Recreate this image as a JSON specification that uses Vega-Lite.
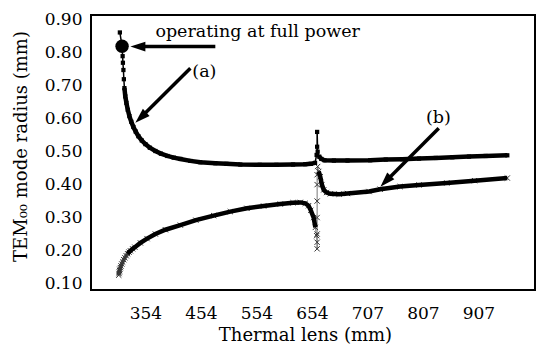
{
  "$schema": "https://vega.github.io/schema/vega-lite/v6.json",
  "width": 444,
  "height": 275,
  "autosize": {"type": "none"},
  "padding": {"left": 91, "top": 15, "right": 1, "bottom": 56},
  "background": "white",
  "config": {"view": {"stroke": "black", "strokeWidth": 2}, "font": "DejaVu Serif"},
  "datasets": {
    "curves": [
      {"series": "a", "x": 308, "y": 0.862}, {"series": "a", "x": 312, "y": 0.82}, {"series": "a", "x": 313, "y": 0.79},
      {"series": "a", "x": 313.5, "y": 0.77}, {"series": "a", "x": 314.4, "y": 0.748}, {"series": "a", "x": 315.2, "y": 0.72},
      {"series": "a", "x": 316.2, "y": 0.693}, {"series": "a", "x": 317.8, "y": 0.668}, {"series": "a", "x": 319.8, "y": 0.648},
      {"series": "a", "x": 322.3, "y": 0.627}, {"series": "a", "x": 325.2, "y": 0.608}, {"series": "a", "x": 328.5, "y": 0.591},
      {"series": "a", "x": 332.4, "y": 0.575}, {"series": "a", "x": 336.6, "y": 0.561}, {"series": "a", "x": 341.4, "y": 0.547},
      {"series": "a", "x": 347.5, "y": 0.534}, {"series": "a", "x": 354, "y": 0.523}, {"series": "a", "x": 362, "y": 0.512},
      {"series": "a", "x": 372, "y": 0.502}, {"series": "a", "x": 382, "y": 0.494}, {"series": "a", "x": 393.6, "y": 0.487},
      {"series": "a", "x": 405, "y": 0.482}, {"series": "a", "x": 417, "y": 0.478}, {"series": "a", "x": 435, "y": 0.472},
      {"series": "a", "x": 453, "y": 0.468}, {"series": "a", "x": 480, "y": 0.465}, {"series": "a", "x": 500, "y": 0.463},
      {"series": "a", "x": 525, "y": 0.461}, {"series": "a", "x": 560, "y": 0.46},
      {"series": "a", "x": 590, "y": 0.46}, {"series": "a", "x": 620, "y": 0.461},
      {"series": "a", "x": 642, "y": 0.462}, {"series": "a", "x": 652, "y": 0.463}, {"series": "a", "x": 657, "y": 0.466},
      {"series": "a", "x": 658.5, "y": 0.49}, {"series": "a", "x": 659, "y": 0.515}, {"series": "a", "x": 659, "y": 0.56},
      {"series": "a", "x": 659.5, "y": 0.5}, {"series": "a", "x": 661, "y": 0.485}, {"series": "a", "x": 663, "y": 0.478},
      {"series": "a", "x": 666, "y": 0.474}, {"series": "a", "x": 675, "y": 0.473}, {"series": "a", "x": 688, "y": 0.473},
      {"series": "a", "x": 712, "y": 0.474}, {"series": "a", "x": 740, "y": 0.476}, {"series": "a", "x": 770, "y": 0.477},
      {"series": "a", "x": 800, "y": 0.479}, {"series": "a", "x": 830, "y": 0.481}, {"series": "a", "x": 860, "y": 0.483},
      {"series": "a", "x": 890, "y": 0.485}, {"series": "a", "x": 920, "y": 0.487}, {"series": "a", "x": 959, "y": 0.489},
      {"series": "b", "x": 306, "y": 0.125}, {"series": "b", "x": 306.5, "y": 0.13}, {"series": "b", "x": 307, "y": 0.135},
      {"series": "b", "x": 307.5, "y": 0.139}, {"series": "b", "x": 308, "y": 0.143}, {"series": "b", "x": 309, "y": 0.148},
      {"series": "b", "x": 310, "y": 0.153}, {"series": "b", "x": 311.5, "y": 0.159}, {"series": "b", "x": 313, "y": 0.165},
      {"series": "b", "x": 315, "y": 0.172}, {"series": "b", "x": 317, "y": 0.178}, {"series": "b", "x": 319.5, "y": 0.184},
      {"series": "b", "x": 322, "y": 0.19}, {"series": "b", "x": 324.5, "y": 0.195}, {"series": "b", "x": 327, "y": 0.199},
      {"series": "b", "x": 331, "y": 0.205}, {"series": "b", "x": 335, "y": 0.21},
      {"series": "b", "x": 345, "y": 0.223}, {"series": "b", "x": 357, "y": 0.236}, {"series": "b", "x": 372, "y": 0.25},
      {"series": "b", "x": 390, "y": 0.263}, {"series": "b", "x": 417, "y": 0.277}, {"series": "b", "x": 445, "y": 0.292},
      {"series": "b", "x": 477, "y": 0.306}, {"series": "b", "x": 507, "y": 0.318}, {"series": "b", "x": 537, "y": 0.328},
      {"series": "b", "x": 567, "y": 0.335}, {"series": "b", "x": 597, "y": 0.341}, {"series": "b", "x": 620, "y": 0.345},
      {"series": "b", "x": 633, "y": 0.346}, {"series": "b", "x": 642, "y": 0.343}, {"series": "b", "x": 648, "y": 0.336},
      {"series": "b", "x": 652, "y": 0.322}, {"series": "b", "x": 655.7, "y": 0.3}, {"series": "b", "x": 657.3, "y": 0.27},
      {"series": "b", "x": 658.5, "y": 0.245}, {"series": "b", "x": 659, "y": 0.225}, {"series": "b", "x": 659, "y": 0.205},
      {"series": "b", "x": 659, "y": 0.25}, {"series": "b", "x": 659, "y": 0.3}, {"series": "b", "x": 659, "y": 0.35},
      {"series": "b", "x": 659, "y": 0.4}, {"series": "b", "x": 659, "y": 0.43}, {"series": "b", "x": 659.5, "y": 0.455},
      {"series": "b", "x": 660.5, "y": 0.44}, {"series": "b", "x": 662, "y": 0.424}, {"series": "b", "x": 663.5, "y": 0.4},
      {"series": "b", "x": 665.3, "y": 0.384}, {"series": "b", "x": 668, "y": 0.376}, {"series": "b", "x": 671.6, "y": 0.372},
      {"series": "b", "x": 680, "y": 0.371}, {"series": "b", "x": 688, "y": 0.373}, {"series": "b", "x": 710, "y": 0.379},
      {"series": "b", "x": 730, "y": 0.386}, {"series": "b", "x": 766, "y": 0.394}, {"series": "b", "x": 800, "y": 0.399},
      {"series": "b", "x": 850, "y": 0.405}, {"series": "b", "x": 900, "y": 0.412}, {"series": "b", "x": 959, "y": 0.42}
    ],
    "marker": [{"x": 312, "y": 0.82}],
    "arrows": [
      {"id": "full", "x": 480, "y": 0.819, "x2": 340.5, "y2": 0.819},
      {"id": "a", "x": 435, "y": 0.753, "x2": 345.7, "y2": 0.6037},
      {"id": "b", "x": 835.5, "y": 0.571, "x2": 739.8, "y2": 0.4097}
    ],
    "notes": [
      {"kind": "left", "x": 372, "y": 0.862, "text": "operating at full power"},
      {"kind": "center", "x": 460.3, "y": 0.742, "text": "(a)"},
      {"kind": "center", "x": 835, "y": 0.602, "text": "(b)"}
    ],
    "yticks": [
      {"v": 0.1}, {"v": 0.15}, {"v": 0.2}, {"v": 0.25}, {"v": 0.3}, {"v": 0.35}, {"v": 0.4}, {"v": 0.45}, {"v": 0.5},
      {"v": 0.55}, {"v": 0.6}, {"v": 0.65}, {"v": 0.7}, {"v": 0.75}, {"v": 0.8}, {"v": 0.85}, {"v": 0.9}
    ],
    "xticks": [
      {"v": 279, "kind": "minor"}, {"v": 304, "kind": "major"}, {"v": 329, "kind": "minor"}, {"v": 354, "kind": "major"},
      {"v": 379, "kind": "minor"}, {"v": 404, "kind": "major"}, {"v": 429, "kind": "minor"}, {"v": 454, "kind": "major"},
      {"v": 479, "kind": "minor"}, {"v": 504, "kind": "major"}, {"v": 529, "kind": "minor"}, {"v": 554, "kind": "major"},
      {"v": 579, "kind": "minor"}, {"v": 604, "kind": "major"}, {"v": 629, "kind": "minor"}, {"v": 654, "kind": "major"},
      {"v": 667.25, "kind": "minor"}, {"v": 680.5, "kind": "major"}, {"v": 693.75, "kind": "minor"}, {"v": 707, "kind": "major"},
      {"v": 732, "kind": "minor"}, {"v": 757, "kind": "major"}, {"v": 782, "kind": "minor"}, {"v": 807, "kind": "major"},
      {"v": 832, "kind": "minor"}, {"v": 857, "kind": "major"}, {"v": 882, "kind": "minor"}, {"v": 907, "kind": "major"},
      {"v": 932, "kind": "minor"}, {"v": 957, "kind": "major"}, {"v": 982, "kind": "minor"}
    ]
  },
  "encoding": {
    "x": {
      "field": "x", "type": "quantitative",
      "scale": {"domain": [256, 654, 707, 1008.9], "range": [0, 220.9, 276.4, 444], "nice": false, "zero": false},
      "axis": {
        "title": "Thermal lens (mm)",
        "values": [354, 454, 554, 654, 707, 807, 907],
        "format": "d",
        "labelOverlap": false,
        "labelFlush": false,
        "grid": false,
        "domain": false,
        "ticks": false,
        "labelFont": "DejaVu Serif",
        "labelFontSize": 17,
        "labelColor": "black",
        "labelBaseline": "top",
        "labelPadding": 15,
        "titleFont": "DejaVu Serif",
        "titleFontSize": 18,
        "titleFontWeight": "normal",
        "titleColor": "black",
        "titleBaseline": "middle",
        "titleX": 214,
        "titleY": 45
      }
    },
    "y": {
      "field": "y", "type": "quantitative",
      "scale": {"domain": [0.08, 0.915], "nice": false, "zero": false},
      "axis": {
        "title": "TEM₀₀ mode radius (mm)",
        "values": [0.1, 0.2, 0.3, 0.4, 0.5, 0.6, 0.7, 0.8, 0.9],
        "format": ".2f",
        "labelOverlap": false,
        "labelFlush": false,
        "grid": false,
        "domain": false,
        "ticks": false,
        "labelFont": "DejaVu Serif",
        "labelFontSize": 17,
        "labelColor": "black",
        "labelPadding": 9,
        "titleFont": "DejaVu Serif",
        "titleFontSize": 18,
        "titleFontWeight": "normal",
        "titleColor": "black",
        "titleAngle": 270,
        "titleAlign": "center",
        "titleBaseline": "middle",
        "titleX": -70,
        "titleY": 131
      }
    }
  },
  "layer": [
    {"data": {"name": "yticks"},
     "mark": {"type": "rule", "color": "black", "strokeWidth": 2.5},
     "encoding": {"y": {"field": "v", "type": "quantitative"}, "x": {"datum": 256}, "x2": {"datum": 267}}},
    {"data": {"name": "xticks"}, "transform": [{"filter": "datum.kind == 'major'"}],
     "mark": {"type": "rule", "color": "black", "strokeWidth": 2.5},
     "encoding": {"x": {"field": "v", "type": "quantitative"}, "y": {"datum": 0.08}, "y2": {"datum": 0.101}}},
    {"data": {"name": "xticks"}, "transform": [{"filter": "datum.kind == 'minor'"}],
     "mark": {"type": "rule", "color": "black", "strokeWidth": 2.5},
     "encoding": {"x": {"field": "v", "type": "quantitative"}, "y": {"datum": 0.08}, "y2": {"datum": 0.09}}},
    {"data": {"name": "curves"}, "transform": [{"filter": "datum.series == 'b'"}],
     "mark": {"type": "line", "color": "#777", "strokeWidth": 1}, "encoding": {"order": {"value": null}}},
    {"data": {"name": "curves"}, "transform": [{"filter": "datum.series == 'b' && datum.x <= 335"}],
     "mark": {"type": "line", "color": "#555", "strokeWidth": 4}, "encoding": {"order": {"value": null}}},
    {"data": {"name": "curves"}, "transform": [{"filter": "datum.series == 'b'"}],
     "mark": {"type": "point", "shape": "M-1,-1L1,1M1,-1L-1,1", "filled": false, "stroke": "#333", "strokeWidth": 1, "size": 28, "opacity": 1}},
    {"data": {"name": "curves"}, "transform": [{"filter": "datum.series == 'b' && datum.x >= 322 && datum.x < 658"}],
     "mark": {"type": "line", "color": "black", "strokeWidth": 4.5}, "encoding": {"order": {"value": null}}},
    {"data": {"name": "curves"}, "transform": [{"filter": "datum.series == 'b' && datum.x >= 660"}],
     "mark": {"type": "line", "color": "black", "strokeWidth": 4.5}, "encoding": {"order": {"value": null}}},
    {"data": {"name": "curves"}, "transform": [{"filter": "datum.series == 'a'"}],
     "mark": {"type": "line", "color": "black", "strokeWidth": 1.5}, "encoding": {"order": {"value": null}}},
    {"data": {"name": "curves"}, "transform": [{"filter": "datum.series == 'a'"}],
     "mark": {"type": "point", "shape": "square", "filled": true, "color": "black", "size": 18, "opacity": 1}},
    {"data": {"name": "curves"}, "transform": [{"filter": "datum.series == 'a' && datum.x >= 316 && datum.x < 658"}],
     "mark": {"type": "line", "color": "black", "strokeWidth": 4.5}, "encoding": {"order": {"value": null}}},
    {"data": {"name": "curves"}, "transform": [{"filter": "datum.series == 'a' && datum.x >= 660"}],
     "mark": {"type": "line", "color": "black", "strokeWidth": 4.5}, "encoding": {"order": {"value": null}}},
    {"data": {"name": "marker"},
     "mark": {"type": "point", "shape": "circle", "filled": true, "color": "black", "size": 180, "opacity": 1}},
    {"data": {"name": "arrows"},
     "mark": {"type": "rule", "color": "black", "strokeWidth": 3.5},
     "encoding": {"x2": {"field": "x2"}, "y2": {"field": "y2"}}},
    {"data": {"name": "arrows"}, "transform": [{"filter": "datum.id == 'full'"}],
     "mark": {"type": "point", "shape": "M0,-1L0.65,1L-0.65,1Z", "filled": true, "color": "black", "size": 225, "angle": 270, "opacity": 1},
     "encoding": {"x": {"field": "x2", "type": "quantitative"}, "y": {"field": "y2", "type": "quantitative"}}},
    {"data": {"name": "arrows"}, "transform": [{"filter": "datum.id == 'a'"}],
     "mark": {"type": "point", "shape": "M0,-1L0.65,1L-0.65,1Z", "filled": true, "color": "black", "size": 225, "angle": 226.5, "opacity": 1},
     "encoding": {"x": {"field": "x2", "type": "quantitative"}, "y": {"field": "y2", "type": "quantitative"}}},
    {"data": {"name": "arrows"}, "transform": [{"filter": "datum.id == 'b'"}],
     "mark": {"type": "point", "shape": "M0,-1L0.65,1L-0.65,1Z", "filled": true, "color": "black", "size": 225, "angle": 223.6, "opacity": 1},
     "encoding": {"x": {"field": "x2", "type": "quantitative"}, "y": {"field": "y2", "type": "quantitative"}}},
    {"data": {"name": "notes"}, "transform": [{"filter": "datum.kind == 'left'"}],
     "mark": {"type": "text", "align": "left", "baseline": "middle", "font": "DejaVu Serif", "fontSize": 17.5, "color": "black"},
     "encoding": {"text": {"field": "text"}}},
    {"data": {"name": "notes"}, "transform": [{"filter": "datum.kind == 'center'"}],
     "mark": {"type": "text", "align": "center", "baseline": "middle", "font": "DejaVu Serif", "fontSize": 17.5, "color": "black"},
     "encoding": {"text": {"field": "text"}}}
  ]
}
